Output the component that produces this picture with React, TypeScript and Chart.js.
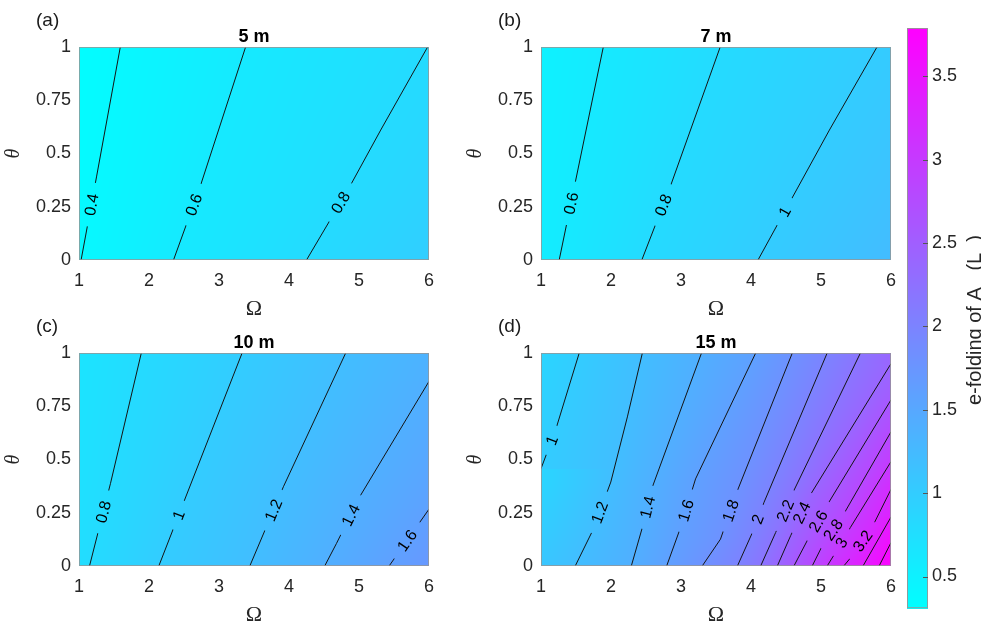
import React, { useEffect, useRef } from "react";
import { Chart, registerables } from "chart.js";
Chart.register(...registerables);

type Pt = [number, number]; // [Omega, theta]

// ---------- shared axes / colour scale ----------
const omegaTicks = [1, 2, 3, 4, 5, 6];
const thetaTicks = [0, 0.25, 0.5, 0.75, 1];
const colorTicks = [0.5, 1, 1.5, 2, 2.5, 3, 3.5];
const colorMin = 0.31;
const colorMax = 3.79;
const colorbarLabel = ["e-folding of A", " (L", ")"];

const titles = ["5 m", "7 m", "10 m", "15 m"];
const panelTags = ["(a)", "(b)", "(c)", "(d)"];

// ---------- (a) 5 m ----------
const levelsA = [0.4, 0.6, 0.8];
const contoursA: Pt[][] = [
  [[1.03, 0], [1.25, 0.39], [1.59, 1]],
  [[2.35, 0], [2.73, 0.344], [3.38, 1]],
  [[4.25, 0], [4.84, 0.328], [5.31, 0.61], [5.98, 1]],
];
const labelThetaA = [0.26, 0.26, 0.27];

// ---------- (b) 7 m ----------
const levelsB = [0.6, 0.8, 1];
const contoursB: Pt[][] = [
  [[1.26, 0], [1.89, 1]],
  [[2.44, 0], [2.846, 0.344], [3.56, 1]],
  [[4.1, 0], [5.12, 0.61], [5.8, 1]],
];
const labelThetaB = [0.266, 0.258, 0.227];

// ---------- (c) 10 m ----------
const levelsC = [0.8, 1, 1.2, 1.4, 1.6];
const contoursC: Pt[][] = [
  [[1.15, 0], [1.45, 0.388], [1.89, 1]],
  [[2.14, 0], [2.47, 0.278], [3.33, 1]],
  [[3.44, 0], [3.92, 0.372], [4.81, 1]],
  [[4.51, 0], [4.677, 0.105], [5.01, 0.325], [6, 0.867]],
  [[5.43, 0], [6, 0.267]],
];
const labelThetaC = [0.254, 0.239, 0.262, 0.239, 0.12];

// ---------- (d) 15 m ----------
const levelsD = [1, 1.2, 1.4, 1.6, 1.8, 2, 2.2, 2.4, 2.6, 2.8, 3, 3.2, 3.4, 3.6];
const contoursD: Pt[][] = [
  [[1, 0.457], [1.21, 0.64], [1.546, 1]],
  [[1.489, 0], [1.736, 0.165], [1.926, 0.331], [1.997, 0.394], [2.234, 0.7], [2.448, 1]],
  [[2.29, 0], [2.448, 0.181], [2.59, 0.37], [3.293, 1]],
  [[2.795, 0], [2.994, 0.181], [3.208, 0.409], [4.067, 1]],
  [[3.303, 0], [3.564, 0.126], [3.806, 0.354], [4.59, 1]],
  [[3.806, 0], [4.02, 0.157], [4.186, 0.299], [5.088, 1]],
  [[4.138, 0], [4.352, 0.157], [4.59, 0.339], [5.563, 1]],
  [[4.376, 0], [4.566, 0.142], [4.827, 0.323], [6, 0.95]],
  [[4.613, 0], [4.827, 0.134], [5.112, 0.299], [6, 0.78]],
  [[4.874, 0], [5.017, 0.094], [5.325, 0.244], [6, 0.63]],
  [[5.088, 0], [5.207, 0.063], [5.42, 0.181], [6, 0.49]],
  [[5.325, 0], [5.444, 0.047], [5.729, 0.181], [6, 0.36]],
  [[5.6, 0], [6, 0.23]],
  [[5.83, 0], [6, 0.11]],
];
const labelThetaD: (number | null)[] = [0.59, 0.252, 0.276, 0.26, 0.26, 0.22, 0.26, 0.25, 0.21, 0.17, 0.11, 0.118, null, null];

// ---------- styling ----------
const SANS = "'Liberation Sans', Arial, Helvetica, sans-serif";
const SERIF = "'Liberation Serif', 'Times New Roman', serif";
const TICK_COLOR = "#262626";
const PW = 445;
const PH = 320;

function coolColor(v: number): [number, number, number] {
  let t = (v - colorMin) / (colorMax - colorMin);
  t = Math.max(0, Math.min(1, t));
  return [Math.round(255 * t), Math.round(255 * (1 - t)), 255];
}

function segIndexAt(poly: Pt[], th: number): number {
  for (let i = 0; i < poly.length - 1; i++) {
    const y0 = poly[i][1], y1 = poly[i + 1][1];
    const lo = Math.min(y0, y1), hi = Math.max(y0, y1);
    if (th >= lo && th <= hi && hi > lo) return i;
  }
  return -1;
}

function crossAt(poly: Pt[], th: number): number | null {
  const i = segIndexAt(poly, th);
  if (i < 0) return null;
  const [x0, y0] = poly[i], [x1, y1] = poly[i + 1];
  return x0 + ((th - y0) / (y1 - y0)) * (x1 - x0);
}

function rowProfile(levels: number[], contours: Pt[][], th: number): Pt[] {
  const pts: Pt[] = [];
  levels.forEach((lv, i) => {
    const x = crossAt(contours[i], th);
    if (x !== null) pts.push([x, lv]);
  });
  pts.sort((a, b) => a[0] - b[0]);
  return pts;
}

function evalProfile(pts: Pt[], om: number): number {
  const n = pts.length;
  if (n === 0) return colorMin;
  if (n === 1) return pts[0][1];
  let i0 = 0, i1 = 1;
  if (om <= pts[0][0]) { i0 = 0; i1 = 1; }
  else if (om >= pts[n - 1][0]) { i0 = n - 2; i1 = n - 1; }
  else {
    for (let i = 0; i < n - 1; i++) {
      if (om >= pts[i][0] && om <= pts[i + 1][0]) { i0 = i; i1 = i + 1; break; }
    }
  }
  const [x0, v0] = pts[i0], [x1, v1] = pts[i1];
  if (x1 === x0) return v0;
  return v0 + ((om - x0) * (v1 - v0)) / (x1 - x0);
}

function makeContourPlugin(levels: number[], contours: Pt[][], labelTheta: (number | null)[], title: string, tag: string) {
  let off: HTMLCanvasElement | null = null;
  return {
    id: "contourFill",
    beforeDatasetsDraw(chart: any) {
      const { ctx, chartArea: ca, scales } = chart;
      const xs = scales.x, ys = scales.y;
      const w = Math.round(ca.right - ca.left), h = Math.round(ca.bottom - ca.top);
      off = document.createElement("canvas");
      off.width = w; off.height = h;
      const octx = off.getContext("2d")!;
      const img = octx.createImageData(w, h);
      for (let j = 0; j < h; j++) {
        const th = ys.getValueForPixel(ca.top + j + 0.5);
        const prof = rowProfile(levels, contours, th);
        for (let i = 0; i < w; i++) {
          const om = xs.getValueForPixel(ca.left + i + 0.5);
          const [r, g, b] = coolColor(evalProfile(prof, om));
          const k = (j * w + i) * 4;
          img.data[k] = r; img.data[k + 1] = g; img.data[k + 2] = b; img.data[k + 3] = 255;
        }
      }
      octx.putImageData(img, 0, 0);
      ctx.drawImage(off, ca.left, ca.top);
    },
    afterDatasetsDraw(chart: any) {
      const { ctx, chartArea: ca, scales } = chart;
      const xs = scales.x, ys = scales.y;
      ctx.save();
      ctx.font = `16px ${SANS}`;
      labelTheta.forEach((th, idx) => {
        if (th === null || th === undefined) return;
        const poly = contours[idx];
        const s = segIndexAt(poly, th);
        const om = crossAt(poly, th);
        if (s < 0 || om === null) return;
        const px = xs.getPixelForValue(om), py = ys.getPixelForValue(th);
        const dx = xs.getPixelForValue(poly[s + 1][0]) - xs.getPixelForValue(poly[s][0]);
        const dy = ys.getPixelForValue(poly[s + 1][1]) - ys.getPixelForValue(poly[s][1]);
        let ang = Math.atan2(dy, dx);
        if (ang > Math.PI / 2) ang -= Math.PI;
        if (ang < -Math.PI / 2) ang += Math.PI;
        const text = String(levels[idx]);
        const tw = ctx.measureText(text).width;
        const gw = tw + 22, gh = 8;
        // erase the line under the label by repainting the field
        ctx.save();
        ctx.translate(px, py);
        ctx.rotate(ang);
        ctx.beginPath();
        ctx.rect(-gw / 2, -gh / 2, gw, gh);
        ctx.rotate(-ang);
        ctx.translate(-px, -py);
        ctx.clip();
        if (off) ctx.drawImage(off, ca.left, ca.top);
        ctx.restore();
        // label
        ctx.save();
        ctx.translate(px, py);
        ctx.rotate(ang);
        ctx.fillStyle = "#000";
        ctx.textAlign = "center";
        ctx.textBaseline = "middle";
        ctx.fillText(text, 0, 1);
        ctx.restore();
      });
      ctx.restore();
    },
    afterDraw(chart: any) {
      const { ctx, chartArea: ca } = chart;
      ctx.save();
      ctx.strokeStyle = "rgba(150,150,150,0.8)";
      ctx.lineWidth = 1;
      ctx.strokeRect(ca.left + 0.5, ca.top + 0.5, ca.right - ca.left - 1, ca.bottom - ca.top - 1);
      ctx.fillStyle = "#000";
      ctx.font = `bold 18px ${SANS}`;
      ctx.textAlign = "center";
      ctx.textBaseline = "alphabetic";
      ctx.fillText(title, (ca.left + ca.right) / 2, ca.top - 5);
      ctx.font = `19px ${SANS}`;
      ctx.textAlign = "left";
      ctx.fillStyle = "#1a1a1a";
      ctx.fillText(tag, ca.left - 43, ca.top - 21);
      ctx.restore();
    },
  };
}

function Panel(props: { idx: number; levels: number[]; contours: Pt[][]; labelTheta: (number | null)[]; left: number; top: number }) {
  const ref = useRef<HTMLCanvasElement>(null);
  useEffect(() => {
    const canvas = ref.current;
    if (!canvas) return;
    const { levels, contours, labelTheta, idx } = props;
    const chart = new Chart(canvas, {
      type: "scatter",
      data: {
        datasets: contours.map((poly, i) => ({
          label: String(levels[i]),
          data: poly.map(([x, y]) => ({ x, y })),
          showLine: true,
          borderColor: "#141414",
          borderWidth: 1,
          pointRadius: 0,
          pointHoverRadius: 0,
          fill: false,
          tension: 0,
        })),
      },
      options: {
        responsive: false,
        animation: false,
        devicePixelRatio: 1,
        events: [],
        layout: { padding: { left: 0, top: 47, right: 16, bottom: 0 } },
        plugins: { legend: { display: false }, tooltip: { enabled: false }, title: { display: false } },
        scales: {
          x: {
            type: "linear",
            min: 1,
            max: 6,
            afterBuildTicks: (s: any) => { s.ticks = omegaTicks.map((v) => ({ value: v })); },
            afterFit: (s: any) => { s.height = 60; },
            ticks: { color: TICK_COLOR, font: { family: SANS, size: 18 }, padding: 10, maxRotation: 0, autoSkip: false, callback: (v: any) => String(v) },
            grid: { display: false, drawTicks: false },
            border: { display: false },
            title: { display: true, text: "Ω", color: TICK_COLOR, font: { family: SERIF, size: 22, lineHeight: 1 }, padding: { top: 0, bottom: 0 } },
          },
          y: {
            type: "linear",
            min: 0,
            max: 1,
            afterBuildTicks: (s: any) => { s.ticks = thetaTicks.map((v) => ({ value: v })); },
            afterFit: (s: any) => { s.width = 79; },
            ticks: { color: TICK_COLOR, font: { family: SANS, size: 18 }, padding: 8, autoSkip: false, callback: (v: any) => String(v) },
            grid: { display: false, drawTicks: false },
            border: { display: false },
            title: { display: true, text: "θ", color: TICK_COLOR, font: { family: SERIF, size: 20, style: "italic", lineHeight: 1 }, padding: { top: 4, bottom: 0 } },
          },
        },
      } as any,
      plugins: [makeContourPlugin(levels, contours, labelTheta, titles[idx], panelTags[idx])],
    });
    return () => chart.destroy();
  }, []);
  return (
    <canvas
      ref={ref}
      width={PW}
      height={PH}
      style={{ position: "absolute", left: props.left, top: props.top, width: PW, height: PH }}
    />
  );
}

function Colorbar() {
  const ref = useRef<HTMLCanvasElement>(null);
  useEffect(() => {
    const canvas = ref.current;
    if (!canvas) return;
    const plugin = {
      id: "colorbarFill",
      afterDraw(chart: any) {
        const { ctx, chartArea: ca, scales } = chart;
        const ys = scales.y;
        ctx.save();
        for (let y = Math.floor(ca.top); y < Math.ceil(ca.bottom); y++) {
          const v = ys.getValueForPixel(y + 0.5);
          const [r, g, b] = coolColor(v);
          ctx.fillStyle = `rgb(${r},${g},${b})`;
          ctx.fillRect(ca.left, y, ca.right - ca.left, 1);
        }
        ctx.strokeStyle = "rgba(150,150,150,0.9)";
        ctx.lineWidth = 1;
        ctx.strokeRect(ca.left + 0.5, ca.top + 0.5, ca.right - ca.left - 1, ca.bottom - ca.top - 1);
        ctx.strokeStyle = "#555";
        colorTicks.forEach((v) => {
          const py = Math.round(ys.getPixelForValue(v)) + 0.5;
          ctx.beginPath();
          ctx.moveTo(ca.right - 5, py);
          ctx.lineTo(ca.right, py);
          ctx.stroke();
        });
        // rotated colour-bar label (partly outside the window, as in the figure)
        ctx.font = `20px ${SANS}`;
        ctx.fillStyle = TICK_COLOR;
        ctx.textBaseline = "alphabetic";
        ctx.textAlign = "left";
        const subGap = 11;
        const widths = colorbarLabel.map((t) => ctx.measureText(t).width);
        const total = widths.reduce((a, b) => a + b, 0) + 2 * subGap;
        ctx.translate(ca.right + 53, (ca.top + ca.bottom) / 2 + 2);
        ctx.rotate(-Math.PI / 2);
        let x = -total / 2;
        colorbarLabel.forEach((t, i) => {
          ctx.fillText(t, x, 0);
          x += widths[i] + (i < colorbarLabel.length - 1 ? subGap : 0);
        });
        ctx.restore();
      },
    };
    const chart = new Chart(canvas, {
      type: "scatter",
      data: { datasets: [] },
      options: {
        responsive: false,
        animation: false,
        devicePixelRatio: 1,
        events: [],
        layout: { padding: { left: 27, top: 28, right: 0, bottom: 13 } },
        plugins: { legend: { display: false }, tooltip: { enabled: false }, title: { display: false } },
        scales: {
          x: { type: "linear", display: false, min: 0, max: 1 },
          y: {
            type: "linear",
            position: "right",
            min: colorMin,
            max: colorMax,
            afterBuildTicks: (s: any) => { s.ticks = colorTicks.map((v) => ({ value: v })); },
            afterFit: (s: any) => { s.width = 53; },
            ticks: { color: TICK_COLOR, font: { family: SANS, size: 18 }, padding: 4, autoSkip: false, callback: (v: any) => String(v) },
            grid: { display: false, drawTicks: false },
            border: { display: false },
          },
        },
      } as any,
      plugins: [plugin],
    });
    return () => chart.destroy();
  }, []);
  return (
    <canvas ref={ref} width={101} height={623} style={{ position: "absolute", left: 880, top: 0, width: 101, height: 623 }} />
  );
}

export default function App() {
  return (
    <div style={{ position: "fixed", left: 0, top: 0, width: 981, height: 623, background: "#fff", overflow: "hidden" }}>
      <Panel idx={0} levels={levelsA} contours={contoursA} labelTheta={labelThetaA} left={0} top={0} />
      <Panel idx={1} levels={levelsB} contours={contoursB} labelTheta={labelThetaB} left={462} top={0} />
      <Panel idx={2} levels={levelsC} contours={contoursC} labelTheta={labelThetaC} left={0} top={306} />
      <Panel idx={3} levels={levelsD} contours={contoursD} labelTheta={labelThetaD} left={462} top={306} />
      <Colorbar />
    </div>
  );
}
